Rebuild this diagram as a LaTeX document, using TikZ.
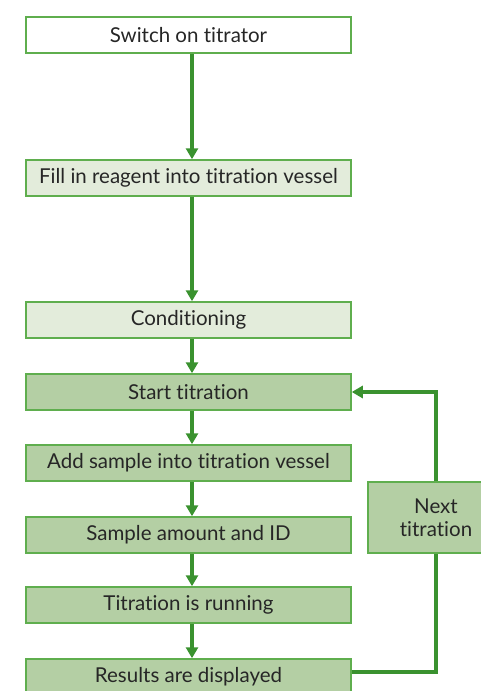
\documentclass[tikz,border=0pt]{standalone}
\usepackage{fontspec}
\setmainfont{Lato}[Ligatures=NoCommon]
\usetikzlibrary{arrows.meta}

\definecolor{boxline}{HTML}{5FAE4E}
\definecolor{flowgreen}{HTML}{3A922F}
\definecolor{palegreen}{HTML}{E3ECDB}
\definecolor{midgreen}{HTML}{B4CFA4}

\begin{document}
\begin{tikzpicture}[x=1pt, y=-1pt, every node/.style={font=\fontsize{20.5}{23}\selectfont},
		stepbox/.style={draw=boxline, line width=1.5pt, minimum width=325pt, minimum height=36pt, inner sep=0pt, text=black!85},
		flow/.style={flowgreen, line width=3.5pt, -{Triangle[length=11pt,width=12pt]}},
		loopline/.style={flowgreen, line width=3.5pt}]
			\useasboundingbox (0,0) rectangle (480,691);

			% Setup steps
			\node[stepbox, fill=white] (switch) at (188.5,35) {Switch on titrator};
			\node[stepbox, fill=palegreen] (fill) at (188.5,178) {Fill in reagent into titration vessel};
			\node[stepbox, fill=palegreen] (cond) at (188.5,320) {Conditioning};

			% Titration steps
			\node[stepbox, fill=midgreen] (start) at (188.5,392) {Start titration};
			\node[stepbox, fill=midgreen] (sample) at (188.5,463) {Add sample into titration vessel};
			\node[stepbox, fill=midgreen] (amount) at (188.5,535) {Sample amount and ID};
			\node[stepbox, fill=midgreen] (running) at (188.5,605) {Titration is running};
			\node[stepbox, fill=midgreen] (results) at (188.5,677) {Results are displayed};

			% Loop box
			\node[stepbox, fill=midgreen, minimum width=136pt, minimum height=71pt, align=center] (next) at (436,517.5) {Next\\titration};

			% Arrows down
			\foreach \a/\b in {switch/fill, fill/cond, cond/start, start/sample, sample/amount, amount/running, running/results}
				\draw[flow] ([xshift=3.5pt]\a.south) -- ([xshift=3.5pt]\b.north);

			% Loop back
			\draw[loopline] ([yshift=5pt]results.east) -| (next.south);
			\draw[flow] (next.north) |- (start.east);
		\end{tikzpicture}
\end{document}
